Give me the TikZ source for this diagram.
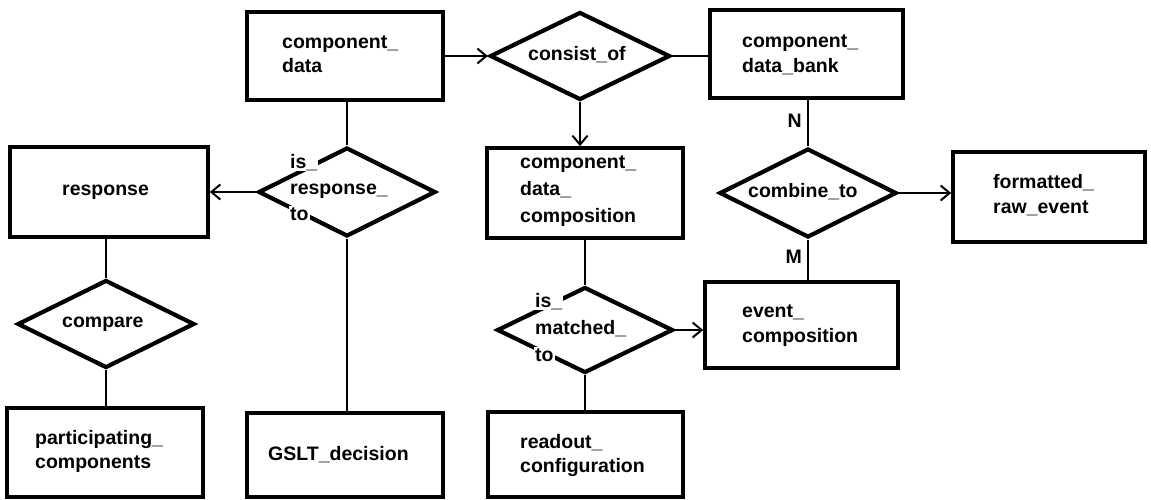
\documentclass[tikz,border=0pt]{standalone}
\usepackage{fontspec}
\setmainfont{Liberation Sans}
\usetikzlibrary{shapes.geometric,arrows.meta}
\newcommand\lns[2][24pt]{\vtop{\baselineskip=#1\relax #2}}
\newcommand\lline[1]{\hbox{#1}}
\newcommand\wline[1]{\hbox{\kern-1pt{\fboxsep=1pt\colorbox{white}{#1}}}}
\begin{document}
\begin{tikzpicture}[x=1pt,y=-1pt,
  entity/.style={draw,rectangle,line width=3.6pt,inner sep=0pt},
  rel/.style={draw,diamond,line width=4.2pt,inner sep=0pt,shape aspect=2},
  txt/.style={anchor=base west,inner sep=0pt,font=\fontsize{19.5}{24}\selectfont\bfseries},
  conn/.style={line width=2pt},
  arr/.style={line width=2pt,-{Straight Barb[length=9pt,width=15pt]}}]
\useasboundingbox (0,0) rectangle (1151,499);
% entities
\node[entity,minimum width=196pt,minimum height=88pt] (cd) at (345,56) {};
\node[entity,minimum width=193pt,minimum height=88pt] (cdb) at (806.5,54) {};
\node[entity,minimum width=196pt,minimum height=90pt] (cdc) at (585,193) {};
\node[entity,minimum width=198pt,minimum height=90pt] (resp) at (109,192) {};
\node[entity,minimum width=196pt,minimum height=89pt] (pc) at (105,452.5) {};
\node[entity,minimum width=196pt,minimum height=84pt] (gslt) at (345,455) {};
\node[entity,minimum width=192pt,minimum height=90pt] (fre) at (1049,197) {};
\node[entity,minimum width=193pt,minimum height=86pt] (ec) at (801.5,325) {};
\node[entity,minimum width=195pt,minimum height=85pt] (rc) at (585.5,454.5) {};
% relationships
\node[rel,minimum width=180pt,minimum height=88pt] (co) at (580,56) {};
\node[rel,minimum width=177pt,minimum height=89pt] (irt) at (347,192) {};
\node[rel,minimum width=177pt,minimum height=88pt] (cmp) at (106,324) {};
\node[rel,minimum width=177pt,minimum height=89pt] (ct) at (808,193) {};
\node[rel,minimum width=176pt,minimum height=86pt] (imt) at (585,330) {};
% connectors
\draw[arr] (cd.east |- co.west) -- (co.west);
\draw[conn] (co.east) -- (cdb.west |- co.east);
\draw[arr] (co.south) -- (co.south |- cdc.north);
\draw[conn] (irt.north |- cd.south) -- (irt.north);
\draw[arr] (irt.west) -- (resp.east |- irt.west);
\draw[conn] (irt.south) -- (irt.south |- gslt.north);
\draw[conn] (cmp.north |- resp.south) -- (cmp.north);
\draw[conn] (cmp.south) -- (cmp.south |- pc.north);
\draw[conn] (ct.north |- cdb.south) -- (ct.north);
\draw[arr] (ct.east) -- (fre.west |- ct.east);
\draw[conn] (ct.south) -- (ct.south |- ec.north);
\draw[conn] (cdc.south -| imt.north) -- (imt.north);
\draw[arr] (imt.east) -- (ec.west |- imt.east);
\draw[conn] (imt.south) -- (imt.south |- rc.north);
% texts
\node[txt] (tcd) at (282,48) {\lns{\lline{component\_}\lline{data}}};
\node[txt] (tcdb) at (742,47) {\lns[25pt]{\lline{component\_}\lline{data\_bank}}};
\node[txt] (tcdc) at (520,168) {\lns[27pt]{\lline{component\_}\lline{data\_}\lline{composition}}};
\node[txt] (tresp) at (62,195) {response};
\node[txt] (tirt) at (290,168) {\lns[26pt]{\wline{is\_}\lline{response\_}\wline{to}}};
\node[txt] (tcmp) at (62,327) {compare};
\node[txt] (tpc) at (35,444) {\lns{\lline{participating\_}\lline{components}}};
\node[txt] (tgslt) at (268,460) {GSLT\_decision};
\node[txt] (tco) at (528,60) {consist\_of};
\node[txt] (tct) at (748,197) {combine\_to};
\node[txt] (tfre) at (993,188) {\lns[25pt]{\lline{formatted\_}\lline{raw\_event}}};
\node[txt] (tec) at (742,317) {\lns[25pt]{\lline{event\_}\lline{composition}}};
\node[txt] (timt) at (535,307) {\lns[27pt]{\wline{is\_}\lline{matched\_}\wline{to}}};
\node[txt] (trc) at (520,448) {\lns{\lline{readout\_}\lline{configuration}}};
\node[txt,anchor=base east] (tn) at (802,127) {N};
\node[txt,anchor=base east] (tm) at (802,263) {M};
\end{tikzpicture}
\end{document}
